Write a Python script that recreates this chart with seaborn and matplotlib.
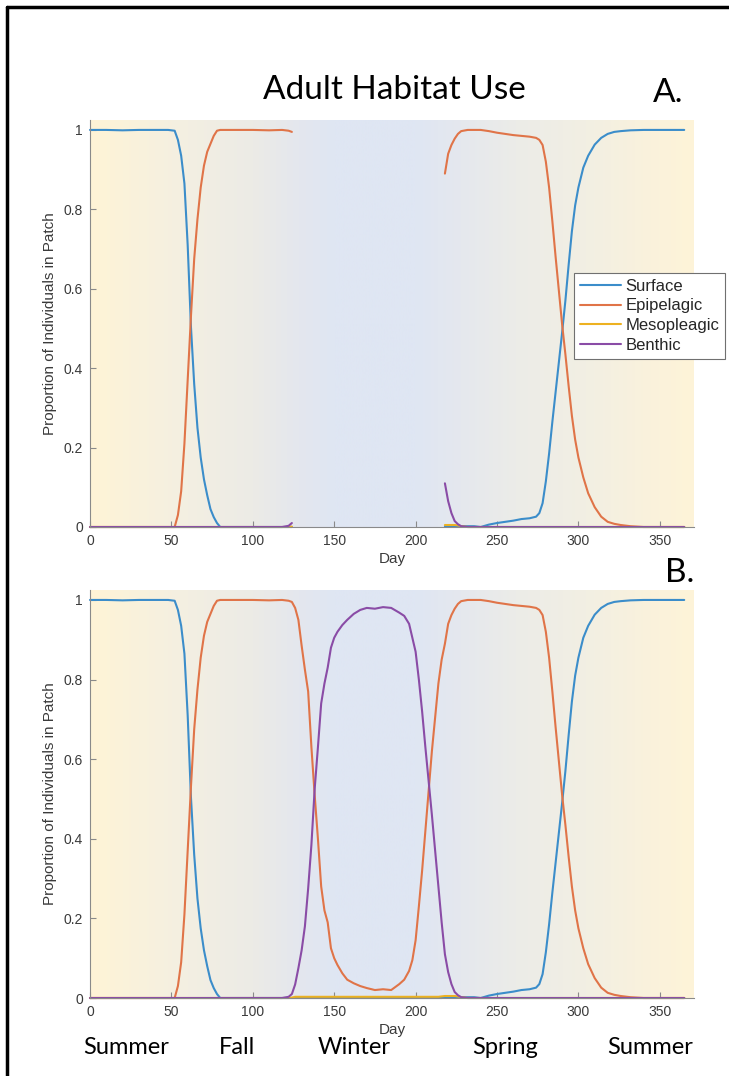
import numpy as np
import pandas as pd
import matplotlib
matplotlib.use("Agg")
import matplotlib.pyplot as plt
from matplotlib.lines import Line2D
from matplotlib.colors import to_rgb
from matplotlib.transforms import blended_transform_factory
import seaborn as sns

# ---- data: proportion of adults in each habitat patch by day of year ----
days = [0, 10, 20, 30, 40, 48, 52, 54, 56, 58, 60, 62, 64, 66, 68, 70, 72, 74, 76, 78,
        80, 85, 90, 100, 110, 118, 122, 124, 126, 128, 130, 132, 134, 136, 138, 140,
        142, 144, 146, 148, 150, 152, 155, 158, 162, 166, 170, 175, 180, 185, 190, 193,
        196, 198, 200, 202, 204, 206, 208, 210, 212, 214, 216, 218, 220, 222, 224, 226,
        228, 232, 236, 240, 245, 250, 255, 260, 265, 270, 274, 276, 278, 280, 282, 284,
        286, 288, 290, 292, 294, 296, 298, 300, 303, 306, 310, 314, 318, 322, 326, 332,
        340, 350, 365]

surface = [1.0, 1.0, 0.999, 1.0, 1.0, 1.0, 0.998, 0.975, 0.935, 0.865, 0.71, 0.505,
           0.36, 0.25, 0.175, 0.12, 0.08, 0.045, 0.025, 0.01,
           0.0, 0.0, 0.0, 0.0, 0.0, 0.0, 0.0, 0.0, 0.0, 0.0, 0.0, 0.0, 0.0, 0.0, 0.0, 0.0,
           0.0, 0.0, 0.0, 0.0, 0.0, 0.0, 0.0, 0.0, 0.0, 0.0, 0.0, 0.0, 0.0, 0.0, 0.0, 0.0,
           0.0, 0.0, 0.0, 0.0, 0.0, 0.0, 0.0, 0.0, 0.0, 0.0, 0.0, 0.002, 0.002, 0.002, 0.002, 0.002,
           0.002, 0.002, 0.002, 0.0, 0.006, 0.01, 0.013, 0.016, 0.02, 0.022, 0.026, 0.035,
           0.06, 0.115, 0.185, 0.265, 0.34, 0.415, 0.49, 0.57, 0.66, 0.745, 0.81, 0.855,
           0.905, 0.935, 0.963, 0.98, 0.99, 0.995, 0.997, 0.999, 1.0, 1.0, 1.0]

epipelagic = [0.0, 0.0, 0.0, 0.0, 0.0, 0.0, 0.0, 0.03, 0.09, 0.21, 0.37, 0.53, 0.675,
              0.775, 0.855, 0.91, 0.945, 0.965, 0.985, 0.998,
              1.0, 1.0, 1.0, 1.0, 0.999, 1.0, 0.998, 0.995, 0.98, 0.95, 0.885, 0.825,
              0.77, 0.63, 0.51, 0.40, 0.28, 0.22, 0.19, 0.125, 0.10, 0.083, 0.062, 0.046,
              0.037, 0.03, 0.025, 0.02, 0.022, 0.02, 0.035, 0.046, 0.068, 0.095, 0.145,
              0.23, 0.32, 0.42, 0.52, 0.62, 0.705, 0.79, 0.85, 0.89, 0.94, 0.962, 0.978,
              0.99, 0.997, 1.0, 1.0, 1.0, 0.997, 0.993, 0.99, 0.987, 0.985, 0.983, 0.98,
              0.975, 0.962, 0.92, 0.855, 0.77, 0.68, 0.595, 0.51, 0.435, 0.355, 0.28,
              0.22, 0.175, 0.125, 0.085, 0.05, 0.026, 0.013, 0.008, 0.005, 0.002, 0.0,
              0.0, 0.0]

mesopelagic = [0.0, 0.0, 0.0, 0.0, 0.0, 0.0, 0.0, 0.0, 0.0, 0.0, 0.0, 0.0, 0.0, 0.0,
               0.0, 0.0, 0.0, 0.0, 0.0, 0.0, 0.0, 0.0, 0.0, 0.0, 0.0, 0.0, 0.0, 0.001,
               0.003, 0.003, 0.003, 0.003, 0.003, 0.003, 0.003, 0.003, 0.003, 0.003,
               0.003, 0.003, 0.003, 0.003, 0.003, 0.003, 0.003, 0.003, 0.003, 0.003,
               0.003, 0.003, 0.003, 0.003, 0.003, 0.003, 0.003, 0.003, 0.003, 0.003,
               0.003, 0.003, 0.003, 0.003, 0.004, 0.005, 0.005, 0.005, 0.005, 0.004,
               0.002, 0.0, 0.0, 0.0, 0.0, 0.0, 0.0, 0.0, 0.0, 0.0, 0.0, 0.0, 0.0, 0.0,
               0.0, 0.0, 0.0, 0.0, 0.0, 0.0, 0.0, 0.0, 0.0, 0.0, 0.0, 0.0, 0.0, 0.0,
               0.0, 0.0, 0.0, 0.0, 0.0, 0.0, 0.0]

benthic = [0.0, 0.0, 0.0, 0.0, 0.0, 0.0, 0.0, 0.0, 0.0, 0.0, 0.0, 0.0, 0.0, 0.0, 0.0,
           0.0, 0.0, 0.0, 0.0, 0.0, 0.0, 0.0, 0.0, 0.0, 0.0, 0.0, 0.003, 0.01, 0.034,
           0.075, 0.12, 0.18, 0.275, 0.385, 0.525, 0.63, 0.74, 0.79, 0.83, 0.88, 0.905,
           0.92, 0.937, 0.95, 0.965, 0.975, 0.98, 0.978, 0.982, 0.98, 0.968, 0.96, 0.94,
           0.905, 0.87, 0.80, 0.72, 0.63, 0.545, 0.46, 0.37, 0.28, 0.19, 0.11, 0.065,
           0.035, 0.015, 0.007, 0.002, 0.0, 0.0, 0.0, 0.0, 0.0, 0.0, 0.0, 0.0, 0.0, 0.0,
           0.0, 0.0, 0.0, 0.0, 0.0, 0.0, 0.0, 0.0, 0.0, 0.0, 0.0, 0.0, 0.0, 0.0, 0.0,
           0.0, 0.0, 0.0, 0.0, 0.0, 0.0, 0.0, 0.0, 0.0]

habitats = ["Surface", "Epipelagic", "Mesopleagic", "Benthic"]
x_ticks = [0, 50, 100, 150, 200, 250, 300, 350]
y_ticks = [0, 0.2, 0.4, 0.6, 0.8, 1.0]
y_tick_labels = ["0", "0.2", "0.4", "0.6", "0.8", "1"]
seasons = ["Summer", "Fall", "Winter", "Spring", "Summer"]

# days not tracked in the upper panel (winter)
gap_start, gap_end = 124, 218

# ---- styling ----
palette = dict(zip(habitats, ["#3b8dca", "#e07448", "#edb120", "#8a4ca6"]))
season_label_days = [22, 90, 162, 255, 344]
bg_stops = [(0, "#fff4d6"), (60, "#f3efe2"), (100, "#ecebe6"), (128, "#e4e7ee"),
            (150, "#dfe6f3"), (200, "#dfe6f3"), (228, "#e5e8ee"), (262, "#ecece8"),
            (305, "#f2efe3"), (350, "#fbf2db"), (371, "#fef4d8")]
XMAX, YMAX = 371, 1.025

sns.set_theme(style="white")
plt.rcParams["font.family"] = ["Liberation Sans", "DejaVu Sans"]
plt.rcParams["axes.linewidth"] = 0.8

W, H = 729, 1076
fig = plt.figure(figsize=(W / 100, H / 100), dpi=100)
ax_a = fig.add_axes([90 / W, 1 - 527 / H, 604 / W, 407 / H])
ax_b = fig.add_axes([90 / W, 1 - 998 / H, 604 / W, 408 / H])

wide = pd.DataFrame({"Day": days, "Surface": surface, "Epipelagic": epipelagic,
                     "Mesopleagic": mesopelagic, "Benthic": benthic})
long = wide.melt(id_vars="Day", var_name="Habitat", value_name="Proportion")
long["segment"] = (long["Day"] > gap_start).astype(int)

part_a = long[(long["Day"] <= gap_start) | (long["Day"] >= gap_end)]
part_b = long.copy()
part_b["segment"] = 0

# seasonal background gradient
grid = np.linspace(0, XMAX, 800)
stop_x = [s[0] for s in bg_stops]
stop_rgb = np.array([to_rgb(s[1]) for s in bg_stops])
grad = np.stack([np.interp(grid, stop_x, stop_rgb[:, k]) for k in range(3)], axis=-1)
grad = grad[np.newaxis, :, :]

for ax, part in [(ax_a, part_a), (ax_b, part_b)]:
    ax.imshow(grad, extent=[0, XMAX, 0, YMAX], aspect="auto", zorder=0,
              interpolation="bilinear")
    sns.lineplot(data=part, x="Day", y="Proportion", hue="Habitat", units="segment",
                 estimator=None, hue_order=habitats, palette=palette, linewidth=1.5,
                 legend=False, ax=ax, sort=True)
    for ln in ax.get_lines():
        ln.set_clip_on(False)
        ln.set_zorder(3)
    ax.set_xlim(0, XMAX)
    ax.set_ylim(0, YMAX)
    ax.set_xticks(x_ticks)
    ax.set_xticklabels([str(t) for t in x_ticks])
    ax.set_yticks(y_ticks)
    ax.set_yticklabels(y_tick_labels)
    ax.tick_params(direction="in", length=4, width=0.8, color="#8a8a8a",
                   labelsize=10, labelcolor="#3a3a3a", pad=5,
                   bottom=True, left=True)
    for side in ["top", "right"]:
        ax.spines[side].set_visible(False)
    for side in ["left", "bottom"]:
        ax.spines[side].set_color("#8a8a8a")
        ax.spines[side].set_zorder(4)
    ax.set_xlabel("Day", fontsize=11, color="#3a3a3a", labelpad=3)
    ax.set_ylabel("Proportion of Individuals in Patch", fontsize=11, color="#3a3a3a",
                  labelpad=5)

handles = [Line2D([], [], color=palette[h], linewidth=1.5) for h in habitats]
leg = ax_a.legend(handles, habitats, loc="upper left",
                  bbox_to_anchor=(574 / W, 1 - 273 / H), bbox_transform=fig.transFigure,
                  borderaxespad=0, frameon=True, fancybox=False, framealpha=1,
                  edgecolor="#707070", facecolor="white", fontsize=12,
                  handlelength=2.45, handletextpad=0.3, labelspacing=0.28,
                  borderpad=0.35)
leg.get_frame().set_linewidth(0.8)
leg.set_zorder(10)

title_font = ["Lato", "DejaVu Sans"]
fig.text(394 / W, 1 - 90 / H, "Adult Habitat Use", ha="center", va="center",
         fontsize=24, family=title_font, color="black")
fig.text(668 / W, 1 - 93 / H, "A.", ha="center", va="center", fontsize=24,
         family=title_font, color="black")
fig.text(680 / W, 1 - 573 / H, "B.", ha="center", va="center", fontsize=24,
         family=title_font, color="black")

season_tf = blended_transform_factory(ax_b.transData, fig.transFigure)
for name, d in zip(seasons, season_label_days):
    ax_b.text(d, 1 - 1048 / H, name, transform=season_tf, ha="center", va="center",
              fontsize=17, family=title_font, color="black", clip_on=False)

# figure frame (top and left edges)
fig.add_artist(Line2D([7 / W, 7 / W], [0, 1 - 7 / H], transform=fig.transFigure,
                      color="black", linewidth=2.5))
fig.add_artist(Line2D([7 / W, 1], [1 - 7 / H, 1 - 7 / H], transform=fig.transFigure,
                      color="black", linewidth=2.5))

fig.savefig("out.png", dpi=100, facecolor="white")
